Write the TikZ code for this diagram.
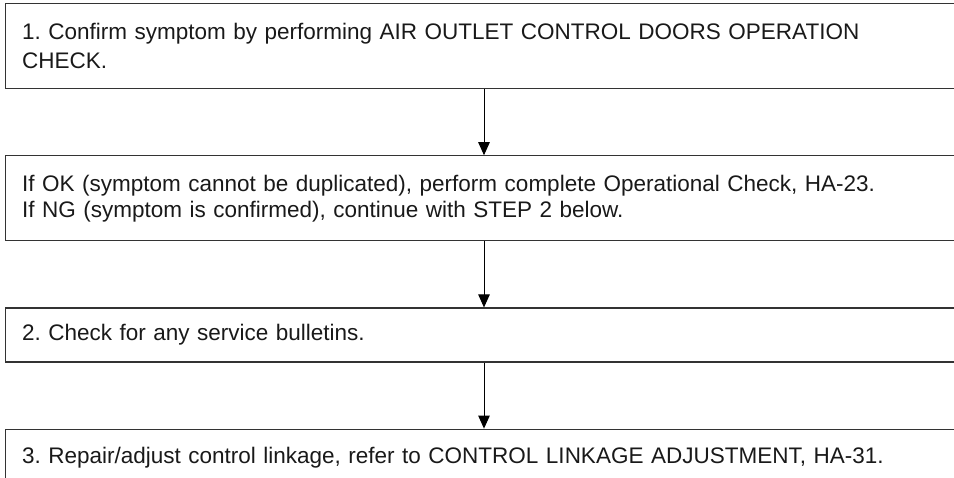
\documentclass[tikz,border=0pt]{standalone}
\usepackage{fontspec}
\setmainfont{Liberation Sans}
\usetikzlibrary{arrows.meta,positioning}

\begin{document}
\frenchspacing
\begin{tikzpicture}[x=1pt, y=-1pt, >={Triangle[length=13pt,width=11.5pt]},
  stepbox/.style={draw=black!80, line width=1.2pt, anchor=north west, align=left,
    inner xsep=17pt, inner ysep=0pt, text width=950pt, text=black!90,
    font=\fontsize{22.5}{26}\selectfont},
  flow/.style={->, line width=1pt}]
\useasboundingbox (0,0) rectangle (954,478);
\coordinate (ax) at (484,0);
\node[stepbox, minimum height=85pt, font=\fontsize{22.5}{29}\selectfont] (confirm) at (4.5,3)
  {1. Confirm symptom by performing AIR OUTLET CONTROL DOORS OPERATION\\ CHECK.};
\node[stepbox, minimum height=85pt, below=66pt of confirm.south west, anchor=north west] (okng)
  {If OK (symptom cannot be duplicated), perform complete Operational Check, HA-23.\\
   If NG (symptom is confirmed), continue with STEP 2 below.};
\node[stepbox, minimum height=54pt, below=66pt of okng.south west, anchor=north west] (bulletin)
  {2. Check for any service bulletins.};
\node[stepbox, minimum height=56pt, below=66pt of bulletin.south west, anchor=north west] (linkage)
  {3. Repair/adjust control linkage, refer to CONTROL LINKAGE ADJUSTMENT, HA-31.};
\draw[flow] (confirm.south -| ax) -- (okng.north -| ax);
\draw[flow] (okng.south -| ax) -- (bulletin.north -| ax);
\draw[flow] (bulletin.south -| ax) -- (linkage.north -| ax);
\end{tikzpicture}
\end{document}
